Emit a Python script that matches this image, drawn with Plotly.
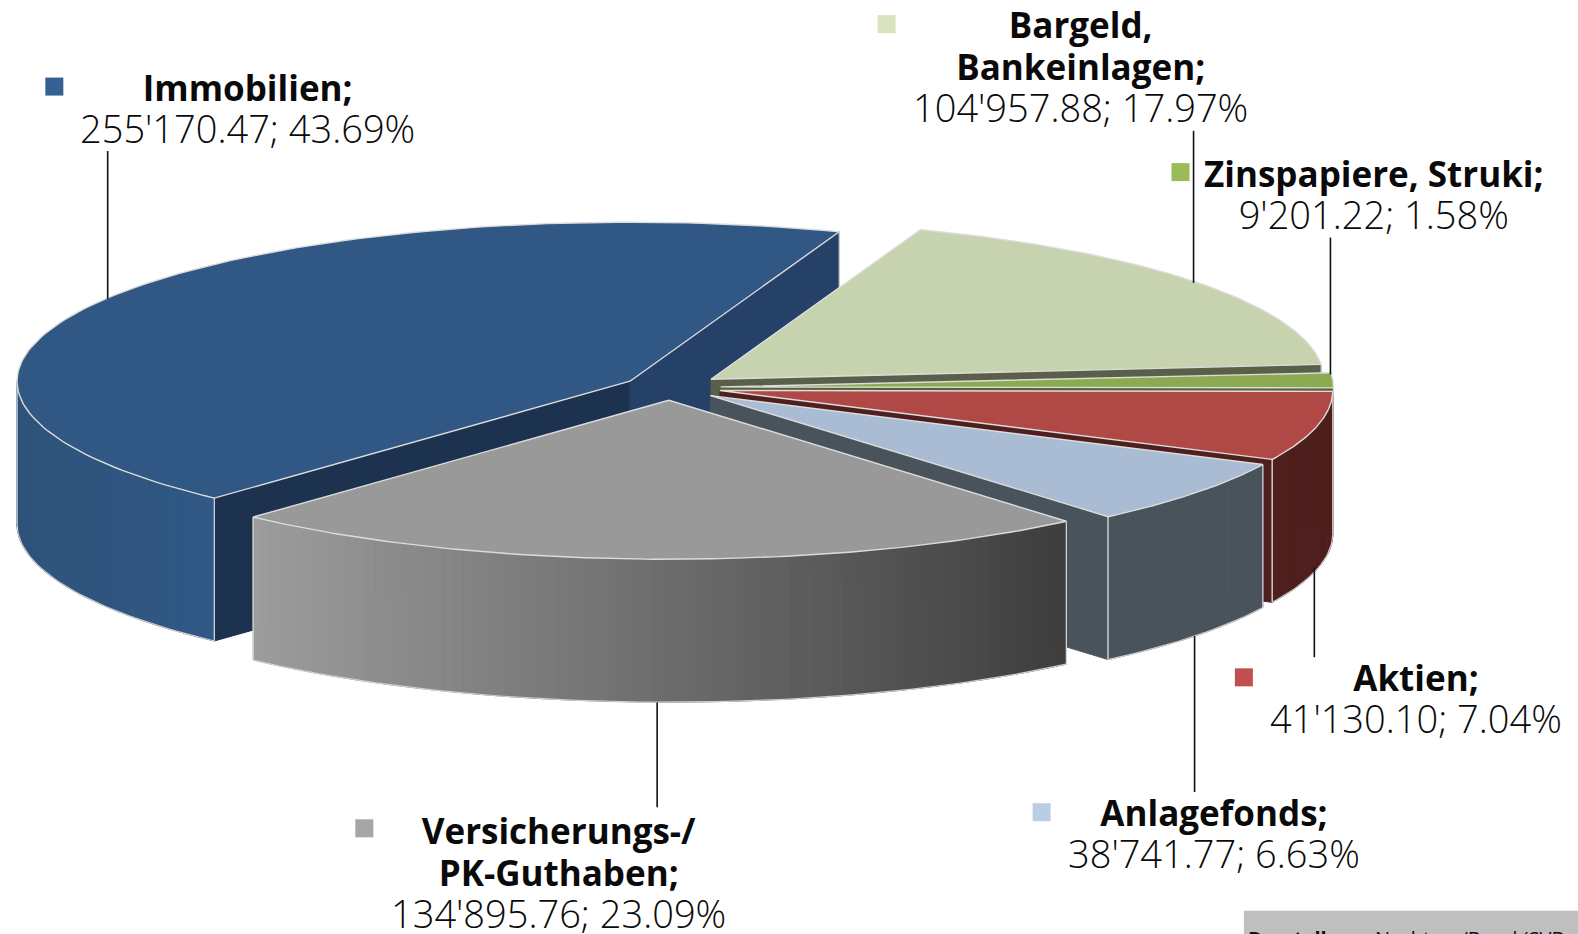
import numpy as np
import plotly.graph_objects as go

# ---------- data ----------
names = ["Immobilien", "Bargeld, Bankeinlagen", "Zinspapiere, Struki", "Aktien", "Anlagefonds", "Versicherungs-/ PK-Guthaben"]
values = [255170.47, 104957.88, 9201.22, 41130.10, 38741.77, 134895.76]
shares = [43.69, 17.97, 1.58, 7.04, 6.63, 23.09]
value_labels = ["255'170.47; 43.69%", "104'957.88; 17.97%", "9'201.22; 1.58%", "41'130.10; 7.04%", "38'741.77; 6.63%", "134'895.76; 23.09%"]
label_titles = [["Immobilien;"], ["Bargeld,", "Bankeinlagen;"], ["Zinspapiere, Struki;"], ["Aktien;"], ["Anlagefonds;"], ["Versicherungs-/", "PK-Guthaben;"]]

# ---------- styles ----------
top_colors = ["#315785", "#c7d3ae", "#8cab50", "#b04845", "#a9bcd4", "#999999"]
key_colors = ["#376092", "#d7e4bd", "#9bbb59", "#c0504d", "#b9cde5", "#a6a6a6"]
end_cut = ["#254167", "#5a5f49", "#566039", "#4e1f1d", "#49535b", None]
start_cut = ["#1c324e", None, None, None, None, None]
wall_left = ["#2e5379", None, None, "#4e1f1d", "#49535b", "#9c9c9c"]
wall_right = ["#315886", None, None, "#4e1f1d", "#49535b", "#3e3e3e"]
explode = [0.076, 0.085, 0.083, 0.084, 0.084, 0.08]
label_x = [246, 1074, 1365, 1407, 1206, 555]
value_y = [129, 109, 215, 716, 850, 909]
LINE_STEP = 42
key_pos = [(54, 86), (881, 24), (1173, 171), (1236, 673), (1035, 807), (362, 823)]
leaders = [((107, 150), (107, 297)), ((1186, 130), (1186, 281)), ((1322, 236), (1322, 372)),
           ((1306, 564), (1306, 653)), ((1187, 632), (1187, 787)), ((653, 698), (653, 802))]

CX, CY, RX, RY, DEPTH = 665.5, 385, 609, 158, 142
START = 222.7
EDGE = "#dcdcdc"

fig = go.Figure()


def poly(xs, ys, fill, line=None, width=1):
    fig.add_trace(go.Scatter(x=list(xs), y=list(ys), mode="lines", fill="toself", fillcolor=fill,
                             line=dict(color=line or fill, width=width), hoverinfo="skip", showlegend=False))


def rim(ax, ay, th):
    r = np.radians(th)
    return ax + RX * np.sin(r), ay - RY * np.cos(r)


def mix(c1, c2, t):
    a = [int(c1[i:i + 2], 16) for i in (1, 3, 5)]
    b = [int(c2[i:i + 2], 16) for i in (1, 3, 5)]
    return "#%02x%02x%02x" % tuple(round(p + (q - p) * t) for p, q in zip(a, b))


total = sum(values)
angles = np.cumsum([0] + [v / total * 360 for v in values]) + START

for i in range(len(values)):
    t0, t1 = angles[i], angles[i + 1]
    if t0 >= 360:
        t0, t1 = t0 - 360, t1 - 360
    mid = np.radians((t0 + t1) / 2)
    ax = CX + explode[i] * RX * np.sin(mid)
    ay = CY - explode[i] * RY * np.cos(mid)

    # cut faces
    for th, col in ((t0, start_cut[i]), (t1, end_cut[i])):
        if col:
            ex, ey = rim(ax, ay, th)
            poly([ax, ex, ex, ax, ax], [ay, ey, ey + DEPTH, ay + DEPTH, ay], col)
            fig.add_trace(go.Scatter(x=[ex, ex], y=[ey, ey + DEPTH], mode="lines",
                                     line=dict(color=EDGE, width=1.2), hoverinfo="skip", showlegend=False))

    # outer wall, in the part of the rim facing the viewer
    if wall_left[i]:
        a0, a1 = max(t0, 90), min(t1, 270)
        n = max(2, int((a1 - a0) * 1.0))
        grid = np.linspace(a0, a1, n + 1)
        gx = [rim(ax, ay, g)[0] for g in grid]
        xmin, xmax = min(gx), max(gx)
        for j in range(n):
            x0, y0 = rim(ax, ay, grid[j])
            x1, y1 = rim(ax, ay, grid[j + 1])
            t = ((x0 + x1) / 2 - xmin) / (xmax - xmin)
            poly([x0, x1, x1, x0, x0], [y0, y1, y1 + DEPTH, y0 + DEPTH, y0],
                 mix(wall_left[i], wall_right[i], t))
        # lower rim and vertical wall edges
        bx = [rim(ax, ay, g)[0] for g in grid]
        by = [rim(ax, ay, g)[1] + DEPTH for g in grid]
        fig.add_trace(go.Scatter(x=bx, y=by, mode="lines", line=dict(color="#cfcfcf", width=1.2),
                                 hoverinfo="skip", showlegend=False))
        for g in (a0, a1):
            ex, ey = rim(ax, ay, g)
            fig.add_trace(go.Scatter(x=[ex, ex], y=[ey, ey + DEPTH], mode="lines",
                                     line=dict(color=EDGE, width=1.2), hoverinfo="skip", showlegend=False))

    # top face
    arc = np.linspace(t0, t1, 120)
    xs = [ax] + [rim(ax, ay, a)[0] for a in arc] + [ax]
    ys = [ay] + [rim(ax, ay, a)[1] for a in arc] + [ay]
    poly(xs, ys, top_colors[i], line=EDGE, width=1.4)

# leader lines
for (x0, y0), (x1, y1) in leaders:
    fig.add_trace(go.Scatter(x=[x0, x1], y=[y0, y1], mode="lines", line=dict(color="#111111", width=1.6),
                             hoverinfo="skip", showlegend=False))

# legend keys
fig.add_trace(go.Scatter(x=[p[0] for p in key_pos], y=[p[1] for p in key_pos], mode="markers",
                         marker=dict(symbol="square", size=18, color=key_colors, line=dict(width=0)),
                         hoverinfo="skip", showlegend=False))

FONT = "Open Sans"
for lines, val, x, vy in zip(label_titles, value_labels, label_x, value_y):
    title_html = "<br>".join(f'<b><span style="font-size:35px">{ln}</span></b>' for ln in lines)
    html = f'{title_html}<br><span style="font-size:38px;font-weight:300">{val}</span>'
    fig.add_annotation(x=x, y=vy - LINE_STEP * len(lines) / 2, xref="x", yref="y", text=html, showarrow=False,
                       align="center", xanchor="center", yanchor="middle",
                       font=dict(family=FONT, size=LINE_STEP / 1.3, color="#0a0a0a"))

# source box, cut off by the page edge
fig.add_shape(type="rect", x0=1236, x1=1568, y0=905, y1=960, xref="x", yref="y",
              fillcolor="#bfbfbf", line=dict(width=0), layer="below")
fig.add_annotation(x=1238, y=917, xref="x", yref="y", text="<b>Darstellung:</b> Nachtrag/Bund (SVB",
                   showarrow=False, xanchor="left", yanchor="top",
                   font=dict(family=FONT, size=20, color="#111111"))

fig.update_layout(width=1578, height=934, margin=dict(l=0, r=0, t=0, b=0),
                  paper_bgcolor="white", plot_bgcolor="white", showlegend=False,
                  xaxis=dict(range=[0, 1568], visible=False, fixedrange=True),
                  yaxis=dict(range=[928, 0], visible=False, fixedrange=True))
fig.write_html("out.html", config=dict(displayModeBar=False),
               post_script="document.body.style.margin='0';")
